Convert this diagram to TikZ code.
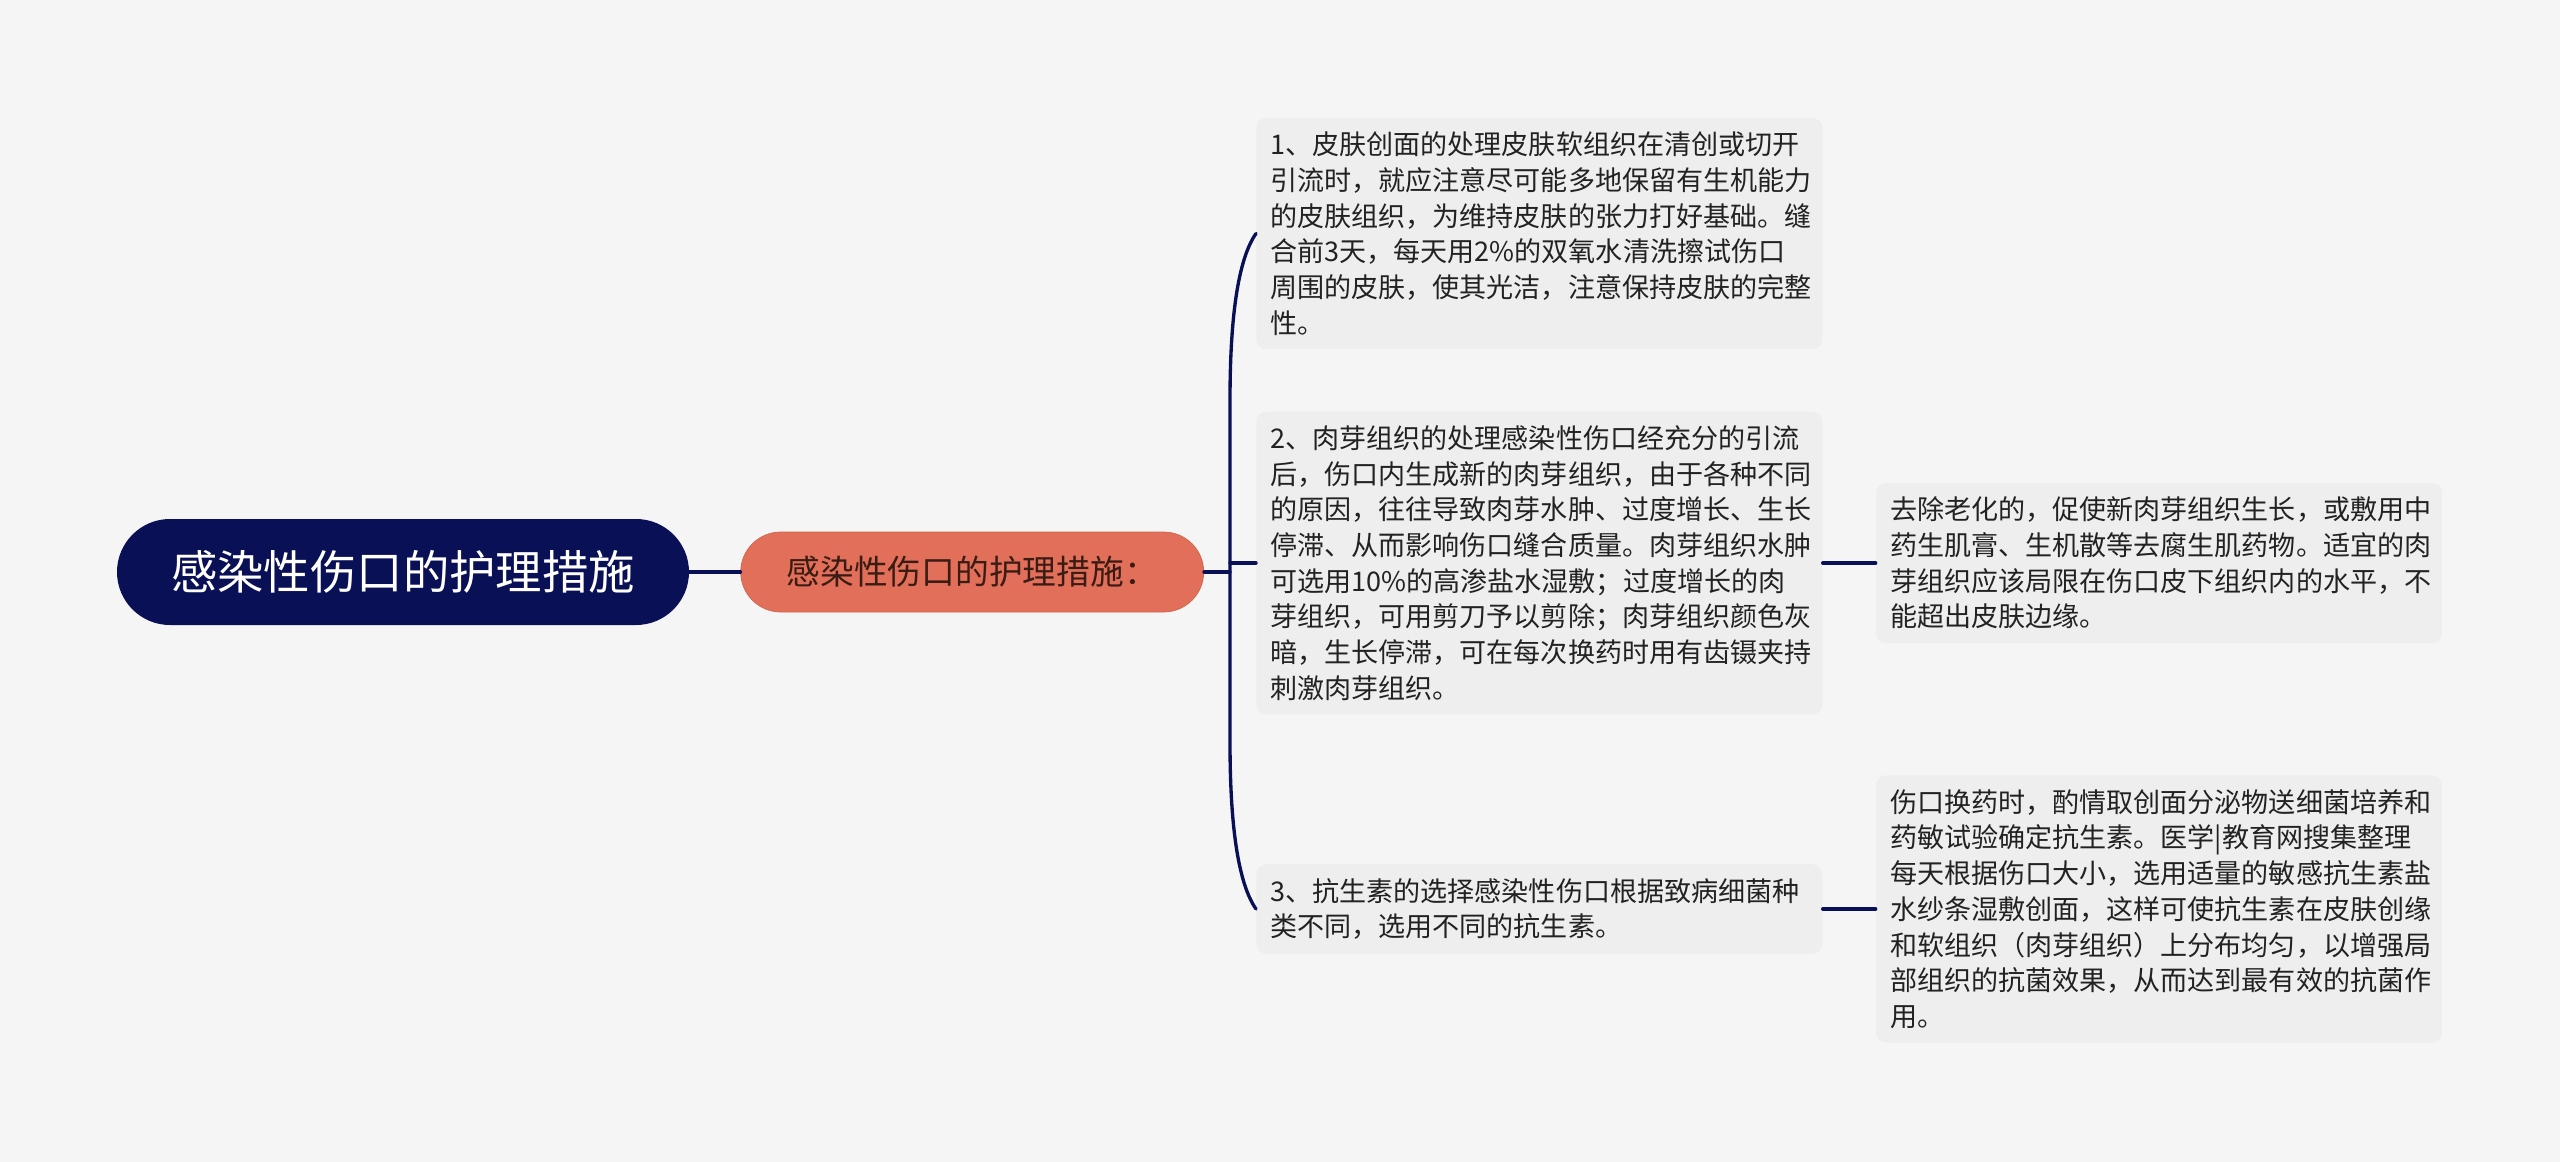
\documentclass[tikz,border=0pt]{standalone}
\usepackage{fontspec}
\usepackage{tikz}
\usetikzlibrary{calc,positioning}
\setmainfont{Noto Sans CJK SC}
\definecolor{paper}{RGB}{245,245,245}
\definecolor{navy}{RGB}{10,16,86}
\definecolor{coral}{RGB}{226,111,89}
\definecolor{topicink}{RGB}{58,28,20}
\definecolor{leafgray}{RGB}{238,238,238}
\definecolor{leafink}{RGB}{34,34,34}
\tikzset{every picture/.style={
  line cap=round                % Rounded line ends.
  }
}

\begin{document}
\begin{tikzpicture}[
    root/.style={
      fill=navy,
      text=white,
      rounded corners=1.06cm,
      minimum width=11.44cm,
      minimum height=2.12cm,
      font=\fontsize{26.4}{30}\selectfont
    },
    topic/.style={
      fill=coral,
      draw=coral!92!black,
      text=topicink,
      rounded corners=0.8cm,
      minimum width=9.26cm,
      minimum height=1.6cm,
      font=\fontsize{19.2}{23}\selectfont
    },
    leaf/.style={
      fill=leafgray,
      text=leafink,
      rounded corners=0.2cm,
      text width=10.76cm,
      inner xsep=0.28cm,
      inner ysep=0.28cm,
      align=left,
      anchor=west,
      font=\fontsize{15.4}{20.3}\selectfont
    },
    link/.style={draw=navy, line width=1.9pt}]

    % Canvas.
    \fill[paper] (0,0) rectangle (51.2,-23.24);
    \useasboundingbox (0,0) rectangle (51.2,-23.24);

    % Root and the one topic.
    \node[root] (root) at (8.06,-11.44) {感染性伤口的护理措施};
    \node[topic,right=1.02cm of root] (topic) {感染性伤口的护理措施：};

    % The three measures.
    \node[leaf] (skin) at (25.12,-4.67) {1、皮肤创面的处理皮肤软组织在清创或切开\\
      引流时，就应注意尽可能多地保留有生机能力\\
      的皮肤组织，为维持皮肤的张力打好基础。缝\\
      合前3天，每天用2\%的双氧水清洗擦试伤口\\
      周围的皮肤，使其光洁，注意保持皮肤的完整\\
      性。};
    \node[leaf] (granul) at (25.12,-11.26) {2、肉芽组织的处理感染性伤口经充分的引流\\
      后，伤口内生成新的肉芽组织，由于各种不同\\
      的原因，往往导致肉芽水肿、过度增长、生长\\
      停滞、从而影响伤口缝合质量。肉芽组织水肿\\
      可选用10\%的高渗盐水湿敷；过度增长的肉\\
      芽组织，可用剪刀予以剪除；肉芽组织颜色灰\\
      暗，生长停滞，可在每次换药时用有齿镊夹持\\
      刺激肉芽组织。};
    \node[leaf] (antib) at (25.12,-18.18) {3、抗生素的选择感染性伤口根据致病细菌种\\
      类不同，选用不同的抗生素。};

    % Notes to the right.
    \node[leaf,right=1.06cm of granul] (granulnote) {去除老化的，促使新肉芽组织生长，或敷用中\\
      药生肌膏、生机散等去腐生肌药物。适宜的肉\\
      芽组织应该局限在伤口皮下组织内的水平，不\\
      能超出皮肤边缘。};
    \node[leaf,right=1.06cm of antib] (antibnote) {伤口换药时，酌情取创面分泌物送细菌培养和\\
      药敏试验确定抗生素。医学|教育网搜集整理\\
      每天根据伤口大小，选用适量的敏感抗生素盐\\
      水纱条湿敷创面，这样可使抗生素在皮肤创缘\\
      和软组织（肉芽组织）上分布均匀，以增强局\\
      部组织的抗菌效果，从而达到最有效的抗菌作\\
      用。};

    % Connectors.
    \coordinate (fork) at (24.6,-11.44);
    \draw[link] (root) -- (topic);
    \draw[link] (topic) -- (fork);
    \draw[link] (fork |- granul.west) -- (granul.west);
    \draw[link] (skin.west) .. controls +(-0.37,-0.53) and +(0,1.6) ..
      ($(fork |- skin.west)+(0,-3.33)$) --
      ($(fork |- antib.west)+(0,3.33)$) .. controls +(0,-1.6) and +(-0.37,0.53) ..
      (antib.west);
    \draw[link] (granul) -- (granulnote);
    \draw[link] (antib) -- (antibnote);
  \end{tikzpicture}
\end{document}
